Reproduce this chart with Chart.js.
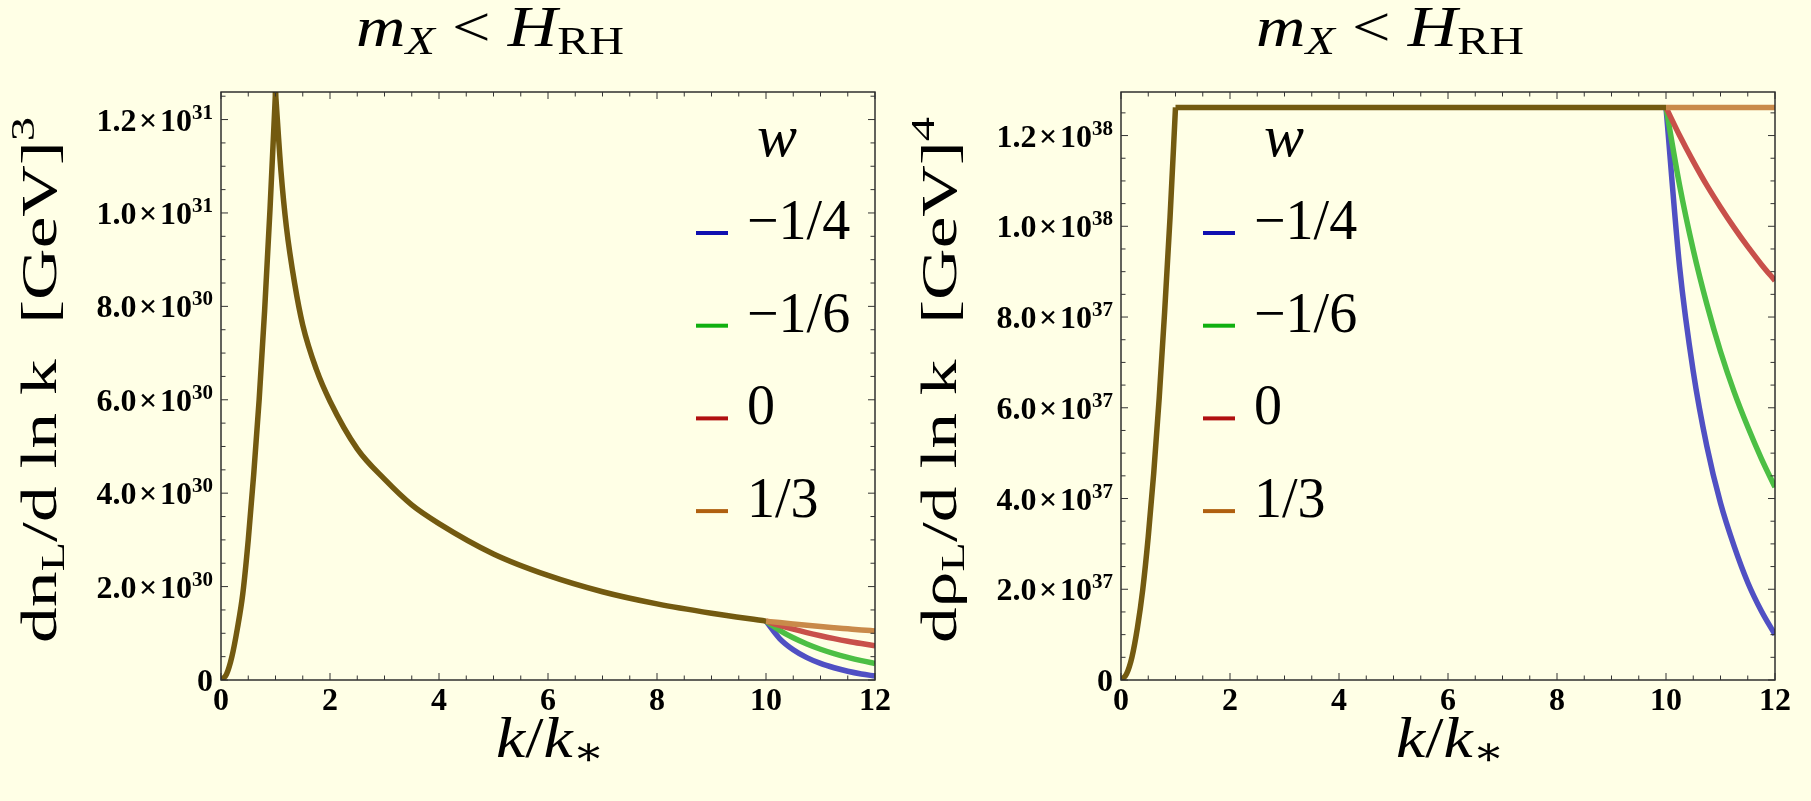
<!DOCTYPE html>
<html>
<head>
<meta charset="utf-8">
<script src="https://cdn.jsdelivr.net/npm/chart.js@4.4.1/dist/chart.umd.min.js"></script>
<style>
  html, body { margin: 0; padding: 0; background: #ffffe6; }
  body { width: 1811px; height: 801px; position: relative; overflow: hidden; }
  canvas { position: absolute; top: 0; }
  #left { left: 0; }
  #right { left: 900px; }
</style>
</head>
<body>
<canvas id="left" width="900" height="801"></canvas>
<canvas id="right" width="911" height="801"></canvas>
<script>
// k/k* grid used by the curves
const kRise = [0, 0.1, 0.2, 0.3, 0.4, 0.5, 0.6, 0.7, 0.8, 0.9, 1.0];
const kFall = [1, 1.1, 1.2, 1.35, 1.5, 1.75, 2, 2.5, 3, 3.5, 4, 5, 6, 7, 8, 9, 10];
const kFlat = [1, 10];
const kTail = [10, 10.25, 10.5, 10.75, 11, 11.25, 11.5, 11.75, 12];

// left panel: dn_L / d ln k  [GeV^3]
const nRise = [0, 0.012e31, 0.05e31, 0.11e31, 0.185e31, 0.3e31, 0.44e31, 0.6e31, 0.79e31, 1.01e31, 1.259e31];
const nFall = [1.259e31, 1.09e31, 0.97e31, 0.85e31, 0.76e31, 0.665e31, 0.597e31, 0.495e31, 0.43e31, 0.375e31,
               0.335e31, 0.27e31, 0.224e31, 0.189e31, 0.163e31, 0.143e31, 0.126e31];
const nTailA = [1.26e30, 0.888e30, 0.648e30, 0.479e30, 0.355e30, 0.262e30, 0.187e30, 0.129e30, 0.085e30];  // w = -1/4
const nTailB = [1.26e30, 1.063e30, 0.903e30, 0.77e30, 0.658e30, 0.564e30, 0.485e30, 0.415e30, 0.354e30];  // w = -1/6
const nTailC = [1.26e30, 1.171e30, 1.089e30, 1.014e30, 0.947e30, 0.886e30, 0.83e30, 0.78e30, 0.733e30];   // w = 0
const nTailD = [1.26e30, 1.229e30, 1.20e30, 1.172e30, 1.145e30, 1.12e30, 1.096e30, 1.072e30, 1.05e30];    // w = 1/3

// right panel: d rho_L / d ln k  [GeV^4]
const rRise = [0, 0.013e38, 0.05e38, 0.114e38, 0.2e38, 0.316e38, 0.455e38, 0.62e38, 0.81e38, 1.02e38, 1.262e38];
const rFlat = [1.262e38, 1.262e38];
const rTailA = [1.262e38, 0.91e38, 0.68e38, 0.515e38, 0.39e38, 0.295e38, 0.215e38, 0.152e38, 0.10e38];
const rTailB = [1.262e38, 1.09e38, 0.948e38, 0.828e38, 0.724e38, 0.635e38, 0.558e38, 0.488e38, 0.425e38];
const rTailC = [1.262e38, 1.20e38, 1.143e38, 1.09e38, 1.042e38, 0.997e38, 0.955e38, 0.916e38, 0.88e38];
const rTailD = [1.262e38, 1.262e38, 1.262e38, 1.262e38, 1.262e38, 1.262e38, 1.262e38, 1.262e38, 1.262e38];

// axes
const xTicks = [0, 2, 4, 6, 8, 10, 12];
const nTicks = [0, 2e30, 4e30, 6e30, 8e30, 1e31, 1.2e31];
const nTickMant = ['0', '2.0', '4.0', '6.0', '8.0', '1.0', '1.2'];
const nTickExp = ['', '30', '30', '30', '30', '31', '31'];
const rTicks = [0, 2e37, 4e37, 6e37, 8e37, 1e38, 1.2e38];
const rTickMant = ['0', '2.0', '4.0', '6.0', '8.0', '1.0', '1.2'];
const rTickExp = ['', '37', '37', '37', '37', '38', '38'];

const wLabels = ['\u22121/4', '\u22121/6', '0', '1/3'];
const lineColors = ['#5050c3', '#4cbf44', '#c8504a', '#c98a4a'];
const swatchColors = ['#1010b0', '#10b010', '#b01010', '#b06010'];
const commonColor = '#735a10';

const SERIF = '"Liberation Serif", "DejaVu Serif", serif';

function pts(xs, ys) {
    return xs.map((x, i) => ({ x: x, y: ys[i] }));
}

function line(data, color) {
    return {
        data: data,
        borderColor: color,
        borderWidth: 5.5,
        pointRadius: 0,
        fill: false,
        cubicInterpolationMode: 'monotone'
    };
}

// draw a row of text pieces (for sub / superscripts), stretched to a given width
function drawRuns(ctx, runs, x, y, width) {
    let total = 0;
    runs.forEach(r => {
        ctx.font = (r.it ? 'italic ' : '') + r.size + 'px ' + SERIF;
        r.w = ctx.measureText(r.t).width;
        total += r.w;
    });
    const s = width ? width / total : 1;
    ctx.save();
    ctx.translate(x, y);
    ctx.scale(s, 1);
    let cx = -total / 2;
    runs.forEach(r => {
        ctx.font = (r.it ? 'italic ' : '') + r.size + 'px ' + SERIF;
        ctx.fillText(r.t, cx, r.dy || 0);
        cx += r.w;
    });
    ctx.restore();
}

function makeChart(id, datasets, cfg) {
    const decor = {
        id: 'decor',
        afterDraw(chart) {
            const ctx = chart.ctx;
            const a = chart.chartArea;
            const xs = chart.scales.x, ys = chart.scales.y;
            ctx.save();
            ctx.fillStyle = '#000';
            ctx.textAlign = 'left';
            ctx.textBaseline = 'alphabetic';

            // frame with inward ticks on all four sides
            ctx.strokeStyle = '#222';
            ctx.lineWidth = 1.4;
            ctx.strokeRect(a.left, a.top, a.right - a.left, a.bottom - a.top);
            ctx.lineWidth = 1;
            ctx.strokeStyle = '#333';
            ctx.beginPath();
            for (let i = 0; i <= 24; i++) {
                const len = (i % 4 === 0) ? 7 : 4.5;
                const px = xs.getPixelForValue(i * 0.5);
                ctx.moveTo(px, a.bottom); ctx.lineTo(px, a.bottom - len);
                ctx.moveTo(px, a.top); ctx.lineTo(px, a.top + len);
            }
            for (let i = 0; i * cfg.yMinor <= cfg.yMax; i++) {
                const len = (i % 4 === 0) ? 7 : 4.5;
                const py = ys.getPixelForValue(i * cfg.yMinor);
                ctx.moveTo(a.left, py); ctx.lineTo(a.left + len, py);
                ctx.moveTo(a.right, py); ctx.lineTo(a.right - len, py);
            }
            ctx.stroke();

            // y tick labels  m × 10^e
            cfg.yTicks.forEach((v, i) => {
                const py = ys.getPixelForValue(v);
                const right = a.left - 8;
                ctx.font = 'bold 32px ' + SERIF;
                const mant = cfg.yExp[i] ? cfg.yMant[i] + '\u200a\u00d7\u200a10' : cfg.yMant[i];
                const mw = ctx.measureText(mant).width;
                ctx.font = 'bold 21px ' + SERIF;
                const ew = cfg.yExp[i] ? ctx.measureText(cfg.yExp[i]).width : 0;
                ctx.font = 'bold 32px ' + SERIF;
                ctx.fillText(mant, right - ew - mw, py + 11);
                if (cfg.yExp[i]) {
                    ctx.font = 'bold 21px ' + SERIF;
                    ctx.fillText(cfg.yExp[i], right - ew, py - 1);
                }
            });

            // title and axis labels
            drawRuns(ctx, [
                { t: 'm', it: true, size: 57 },
                { t: 'X', it: true, size: 40, dy: 8 },
                { t: ' < ', size: 57 },
                { t: 'H', it: true, size: 57 },
                { t: 'RH', size: 40, dy: 8 }
            ], 490, 46, 268);
            drawRuns(ctx, [
                { t: 'k', it: true, size: 57 },
                { t: '/', size: 57 },
                { t: 'k', it: true, size: 57 },
                { t: '\u2217', size: 40, dy: 8 }
            ], 550, 757, 108);
            ctx.save();
            ctx.translate(56, 380);
            ctx.rotate(-Math.PI / 2);
            drawRuns(ctx, [
                { t: cfg.yLetter, size: 50 },
                { t: 'L', size: 34, dy: 8 },
                { t: '/d ln k  [GeV]', size: 50 },
                { t: cfg.yPow, size: 34, dy: -22 }
            ], 0, 0, 526);
            ctx.restore();

            // legend
            ctx.textAlign = 'center';
            ctx.font = 'italic 60px ' + SERIF;
            ctx.fillText('w', cfg.legX + 81, 156);
            ctx.textAlign = 'left';
            ctx.font = '56px ' + SERIF;
            ctx.lineWidth = 4;
            wLabels.forEach((lab, i) => {
                const y = 233 + i * 92.7;
                ctx.strokeStyle = swatchColors[i];
                ctx.beginPath();
                ctx.moveTo(cfg.legX, y);
                ctx.lineTo(cfg.legX + 32, y);
                ctx.stroke();
                ctx.fillText(lab, cfg.legX + 51, y + 6);
            });
            ctx.restore();
        }
    };

    return new Chart(document.getElementById(id), {
        type: 'line',
        data: { datasets: datasets },
        options: {
            responsive: false,
            animation: false,
            devicePixelRatio: 1,
            layout: { padding: { left: 71, right: cfg.padRight, top: 92, bottom: 81 } },
            plugins: { legend: { display: false }, tooltip: { enabled: false } },
            scales: {
                x: {
                    type: 'linear',
                    min: 0,
                    max: 12,
                    afterBuildTicks: s => { s.ticks = xTicks.map(v => ({ value: v })); },
                    afterFit: s => { s.height = 40; },
                    grid: { display: false, drawTicks: false },
                    border: { display: false },
                    ticks: {
                        color: '#000',
                        padding: 3,
                        maxRotation: 0,
                        font: { family: SERIF, size: 32, weight: 'bold' },
                        callback: v => String(v)
                    }
                },
                y: {
                    type: 'linear',
                    min: 0,
                    max: cfg.yMax,
                    afterBuildTicks: s => { s.ticks = cfg.yTicks.map(v => ({ value: v })); },
                    afterFit: s => { s.width = 150; },
                    grid: { display: false, drawTicks: false },
                    border: { display: false },
                    ticks: { display: false }
                }
            }
        },
        plugins: [decor]
    });
}

makeChart('left', [
    line(pts(kRise, nRise), commonColor),
    line(pts(kFall, nFall), commonColor),
    line(pts(kTail, nTailD), lineColors[3]),
    line(pts(kTail, nTailC), lineColors[2]),
    line(pts(kTail, nTailB), lineColors[1]),
    line(pts(kTail, nTailA), lineColors[0])
], {
    yMax: 1.259e31, yMinor: 0.05e31, yTicks: nTicks, yMant: nTickMant, yExp: nTickExp,
    yLetter: 'dn', yPow: '3', legX: 696, padRight: 25
});

makeChart('right', [
    line(pts(kRise, rRise), commonColor),
    line(pts(kFlat, rFlat), commonColor),
    line(pts(kTail, rTailD), lineColors[3]),
    line(pts(kTail, rTailC), lineColors[2]),
    line(pts(kTail, rTailB), lineColors[1]),
    line(pts(kTail, rTailA), lineColors[0])
], {
    yMax: 1.296e38, yMinor: 0.05e38, yTicks: rTicks, yMant: rTickMant, yExp: rTickExp,
    yLetter: 'd\u03c1', yPow: '4', legX: 303, padRight: 36
});
</script>
</body>
</html>
